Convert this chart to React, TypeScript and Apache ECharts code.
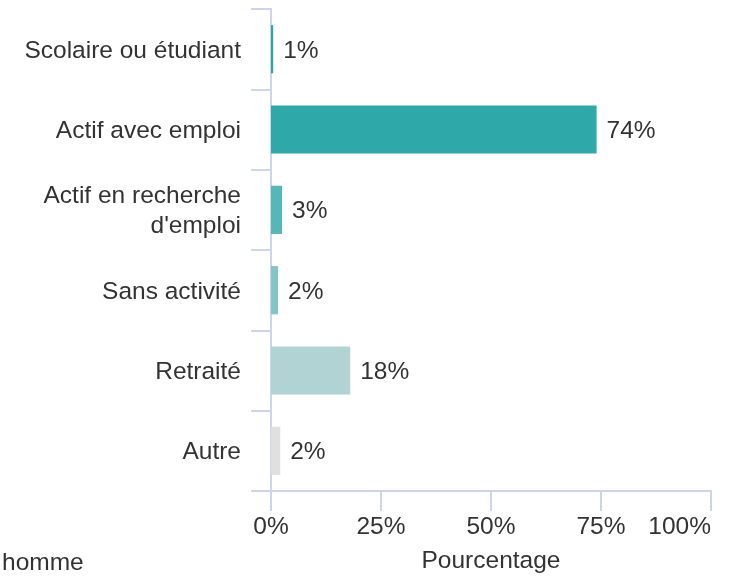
import React, { useEffect, useRef } from "react";
import * as echarts from "echarts";

const categories = [
  "Scolaire ou étudiant",
  "Actif avec emploi",
  "Actif en recherche\nd'emploi",
  "Sans activité",
  "Retraité",
  "Autre",
];
const values = [0.5, 74, 2.5, 1.6, 18, 2.1];
const barColors = ["#2aa6a7", "#2ea8a9", "#55b7b7", "#83c5c5", "#b1d3d4", "#e0e0e0"];
const xTicks = [0, 25, 50, 75, 100];
const axisName = "Pourcentage";
const legendText = "homme";

const FONT = "'Liberation Sans', Arial, sans-serif";
const AXIS_COLOR = "#ccd6eb";
const TEXT_COLOR = "#333333";
const FS = 24.5;

export default function App() {
  const ref = useRef<HTMLDivElement>(null);
  useEffect(() => {
    if (!ref.current) return;
    const chart = echarts.init(ref.current, undefined, { renderer: "svg" });
    chart.setOption({
      animation: false,
      textStyle: { fontFamily: FONT },
      grid: { left: 271, right: 23, top: 9, bottom: 84, containLabel: false },
      xAxis: {
        type: "value",
        min: xTicks[0],
        max: xTicks[xTicks.length - 1],
        interval: 25,
        splitLine: { show: false },
        axisLine: { show: true, lineStyle: { color: AXIS_COLOR, width: 2 } },
        axisTick: { show: true, length: 20, lineStyle: { color: AXIS_COLOR, width: 2 } },
        axisLabel: {
          formatter: (v: number) => v + "%",
          color: TEXT_COLOR,
          fontSize: FS,
          fontFamily: FONT,
          margin: 22,
          alignMaxLabel: "right",
        },
        name: axisName,
        nameLocation: "middle",
        nameGap: 56,
        nameTextStyle: { color: TEXT_COLOR, fontSize: FS, fontFamily: FONT },
      },
      yAxis: {
        type: "category",
        data: categories,
        inverse: true,
        axisLine: { show: true, lineStyle: { color: AXIS_COLOR, width: 2 } },
        axisTick: { show: true, length: 20, lineStyle: { color: AXIS_COLOR, width: 2 } },
        axisLabel: {
          color: TEXT_COLOR,
          fontSize: FS,
          fontFamily: FONT,
          margin: 30,
          lineHeight: 30,
          padding: [5, 0, 0, 0],
        },
      },
      series: [
        {
          type: "bar",
          barWidth: "60%",
          data: values.map((v, i) => ({ value: v, itemStyle: { color: barColors[i] } })),
          label: {
            show: true,
            position: "right",
            distance: 10,
            formatter: (p: any) => Math.round(p.value) + "%",
            color: TEXT_COLOR,
            fontSize: FS,
            fontFamily: FONT,
            padding: [5, 0, 0, 0],
          },
        },
      ],
      graphic: [
        {
          type: "text",
          left: 2,
          top: 549,
          style: {
            text: legendText,
            fill: TEXT_COLOR,
            fontSize: FS,
            fontFamily: FONT,
            lineHeight: 24,
          },
        },
      ],
    });
    return () => chart.dispose();
  }, []);
  return <div ref={ref} style={{ width: 734, height: 577, position: "fixed", left: 0, top: 0 }} />;
}
